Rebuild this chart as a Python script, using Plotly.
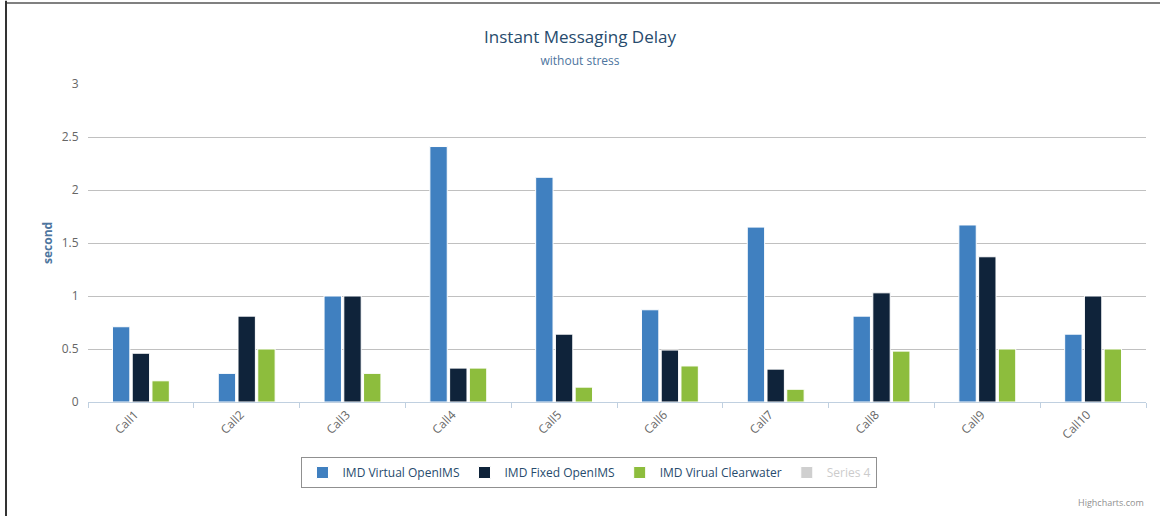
import plotly.graph_objects as go

categories = ["Call1", "Call2", "Call3", "Call4", "Call5", "Call6", "Call7", "Call8", "Call9", "Call10"]
virtual_openims = [0.71, 0.27, 1.0, 2.41, 2.12, 0.87, 1.65, 0.81, 1.67, 0.64]
fixed_openims = [0.46, 0.81, 1.0, 0.32, 0.64, 0.49, 0.31, 1.03, 1.37, 1.0]
virual_clearwater = [0.2, 0.5, 0.27, 0.32, 0.14, 0.34, 0.12, 0.48, 0.5, 0.5]
series4 = [0] * 10

series_names = ["IMD Virtual OpenIMS", "IMD Fixed OpenIMS", "IMD Virual Clearwater",
                "<span style='color:#999999'>Series 4</span>"]
colors = ["#4080C0", "#0F233A", "#8DBD3D", "#A0A0A0"]

FONT = "Open Sans"
fig = go.Figure()
for name, vals, col, vis in zip(series_names,
                                [virtual_openims, fixed_openims, virual_clearwater, series4],
                                colors, [True, True, True, "legendonly"]):
    fig.add_trace(go.Bar(x=categories, y=vals, name=name, visible=vis,
                         marker=dict(color=col, line=dict(color="white", width=1))))

fig.update_layout(
    width=1160, height=516,
    margin=dict(l=88, r=14, t=84, b=114, autoexpand=False),
    paper_bgcolor="white", plot_bgcolor="white",
    font=dict(family=FONT, size=12, color="#606060"),
    title=dict(text="Instant Messaging Delay<br><span style='font-size:12px;color:#4D759E'>without stress</span>",
               x=0.5, xanchor="center", y=0.916, yanchor="top",
               font=dict(family=FONT, size=17, color="#274B6D")),
    barmode="group", bargap=0.44, bargroupgap=0.12,
    showlegend=True,
    legend=dict(orientation="h", x=0.474, xanchor="center", y=-0.173, yanchor="top",
                bordercolor="#909090", borderwidth=1, bgcolor="white",
                font=dict(family=FONT, size=12, color="#274B6D"),
                itemwidth=30, traceorder="normal"),
    xaxis=dict(type="category", tickangle=-45, tickson="boundaries", ticks="outside",
               ticklen=5, tickcolor="#C0D0E0", showline=True, linecolor="#C0D0E0",
               linewidth=1, showgrid=False, automargin=False, ticklabelshift=-6,
               tickfont=dict(family=FONT, size=12, color="#666666")),
    yaxis=dict(range=[0, 3], dtick=0.5, showgrid=True, gridcolor="#C0C0C0", gridwidth=1,
               zeroline=False, ticks="outside", ticklen=6, tickcolor="rgba(0,0,0,0)",
               automargin=False,
               tickfont=dict(family=FONT, size=12, color="#666666")),
    annotations=[
        dict(text="<b>second</b>", xref="paper", yref="paper", x=-0.0388, y=0.5,
             xanchor="center", yanchor="middle", textangle=-90, showarrow=False,
             font=dict(family=FONT, size=12, color="#4D759E")),
        dict(text="Highcharts.com", xref="paper", yref="paper", x=1.0, y=-0.315,
             xanchor="right", yanchor="middle", showarrow=False,
             font=dict(family=FONT, size=9, color="#909090")),
    ],
    shapes=[
        dict(type="line", xref="paper", yref="paper", x0=-0.0775, x1=1.02, y0=1.2547, y1=1.2547,
             line=dict(color="#808080", width=2)),
        dict(type="line", xref="paper", yref="paper", x0=-0.0775, x1=-0.0775, y0=1.262, y1=-0.37,
             line=dict(color="#333333", width=2)),
    ],
)

fig.write_html("out.html", config={"displayModeBar": False},
               post_script="document.body.style.margin='0';")
